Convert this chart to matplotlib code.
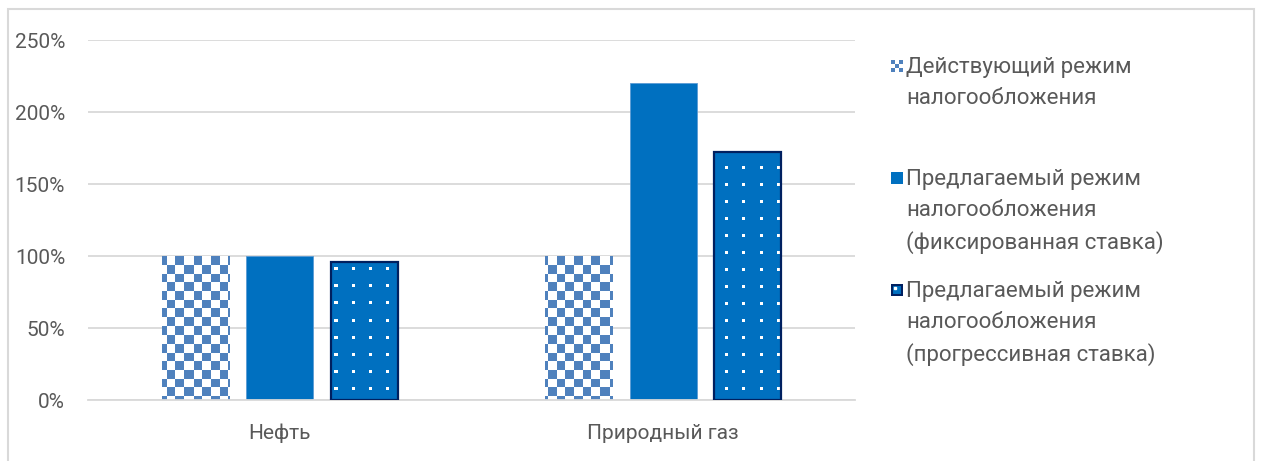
import numpy as np
import matplotlib
matplotlib.use('Agg')
import matplotlib.pyplot as plt
from matplotlib.patches import Rectangle
from matplotlib.ticker import FuncFormatter

plt.rcParams['font.family'] = ['Roboto', 'DejaVu Sans']

categories = ['Нефть', 'Природный газ']
series_names = [
    'Действующий режим\nналогообложения',
    'Предлагаемый режим\nналогообложения\n(фиксированная ставка)',
    'Предлагаемый режим\nналогообложения\n(прогрессивная ставка)',
]
current_regime = [100, 100]
fixed_rate = [100, 220]
progressive_rate = [96, 172]
y_ticks = [0, 50, 100, 150, 200, 250]

BLUE = '#0070C0'
CHECK_BLUE = '#4F81BD'
NAVY = '#002060'
GRID = '#D9D9D9'
TEXT = '#595959'

FIG_W, FIG_H, DPI = 1262, 461, 100


def checker_texture(h, w, cell=8.67):
    """RGBA array with a blue / white checkerboard"""
    yy, xx = np.mgrid[0:h, 0:w]
    mask = ((np.floor(xx / cell) + np.floor(yy / cell)) % 2).astype(bool)
    img = np.ones((h, w, 4))
    img[mask] = matplotlib.colors.to_rgba(CHECK_BLUE)
    return img


def dot_texture(h, w, step=17, size=3, dx=8, dy=7):
    """transparent RGBA array with small white square dots"""
    yy, xx = np.mgrid[0:h, 0:w]
    mask = (((xx - dx) % step) < size) & (((yy - dy) % step) < size)
    img = np.zeros((h, w, 4))
    img[mask] = (1, 1, 1, 1)
    return img


fig = plt.figure(figsize=(FIG_W / DPI, FIG_H / DPI), dpi=DPI)

# outer chart frame
fig.patches.append(Rectangle((8 / FIG_W, -0.1), 1246 / FIG_W, 1.1 - 9 / FIG_H,
                             transform=fig.transFigure, fill=False,
                             edgecolor=GRID, linewidth=1.5))

ax_l, ax_b, ax_w, ax_h = 88 / FIG_W, 61 / FIG_H, 767 / FIG_W, 360 / FIG_H
ax = fig.add_axes([ax_l, ax_b, ax_w, ax_h])

x = np.arange(len(categories))
width = 0.175
step = 0.22
xlim = (-0.5, len(categories) - 0.5)
ylim = (0, 250)

tex_w, tex_h = int(round(ax_w * FIG_W)), int(round(ax_h * FIG_H))
checker = checker_texture(tex_h, tex_w)
dots = dot_texture(tex_h, tex_w)
extent = (xlim[0], xlim[1], ylim[0], ylim[1])

# series 1: checkerboard
bars1 = ax.bar(x - step, current_regime, width, color='none', zorder=2)
for b in bars1:
    im = ax.imshow(checker, extent=extent, aspect='auto', interpolation='nearest',
                   origin='upper', zorder=2)
    im.set_clip_path(b)

# series 2: solid
ax.bar(x, fixed_rate, width, color=BLUE, edgecolor='#5B9BD5', linewidth=0.6, zorder=2)

# series 3: solid with white dots and dark edge
bars3 = ax.bar(x + step, progressive_rate, width, color=BLUE, zorder=2)
for b in bars3:
    im = ax.imshow(dots, extent=extent, aspect='auto', interpolation='nearest',
                   origin='upper', zorder=3)
    im.set_clip_path(b)
ax.bar(x + step, progressive_rate, width, fill=False, edgecolor=NAVY,
       linewidth=1.6, zorder=4)

ax.set_xlim(xlim)
ax.set_ylim(ylim)
ax.set_yticks(y_ticks)
ax.yaxis.set_major_formatter(FuncFormatter(lambda v, p: f'{v:.0f}%'))
ax.set_xticks(x)
ax.set_xticklabels(categories)
ax.grid(axis='y', color=GRID, linewidth=1.3, zorder=0)
ax.set_axisbelow(True)
for s in ['top', 'right', 'left']:
    ax.spines[s].set_visible(False)
ax.spines['bottom'].set_color(GRID)
ax.spines['bottom'].set_linewidth(1.3)
ax.tick_params(axis='both', length=0, labelsize=15, colors=TEXT)
ax.tick_params(axis='y', pad=16.5)
ax.tick_params(axis='x', pad=17)

# legend, drawn by hand so every entry takes the same slot
leg_x = 891 / FIG_W
txt_x = 906 / FIG_W
first_lines = [66, 178, 290]
hs = 12
for i, (name, y0) in enumerate(zip(series_names, first_lines)):
    fy = 1 - y0 / FIG_H
    hax = fig.add_axes([leg_x, fy - hs / 2 / FIG_H, hs / FIG_W, hs / FIG_H])
    hax.set_xlim(0, 1)
    hax.set_ylim(0, 1)
    hax.axis('off')
    if i == 0:
        cb = np.ones((3, 3, 4))
        cb[::2, ::2] = matplotlib.colors.to_rgba(CHECK_BLUE)
        cb[1, 1] = matplotlib.colors.to_rgba(CHECK_BLUE)
        hax.imshow(cb, extent=(0, 1, 0, 1), interpolation='nearest', aspect='auto')
    elif i == 1:
        hax.add_patch(Rectangle((0, 0), 1, 1, color=BLUE))
    else:
        hax.add_patch(Rectangle((0.06, 0.06), 0.88, 0.88, facecolor=BLUE,
                                edgecolor=NAVY, linewidth=1.5))
        hax.add_patch(Rectangle((0.25, 0.55), 0.18, 0.22, color='white'))
    fig.text(txt_x, fy + 9 / FIG_H, name, color=TEXT, fontsize=16, va='top',
             ha='left', linespacing=1.6)

fig.savefig('out.png', dpi=DPI, facecolor='white')
